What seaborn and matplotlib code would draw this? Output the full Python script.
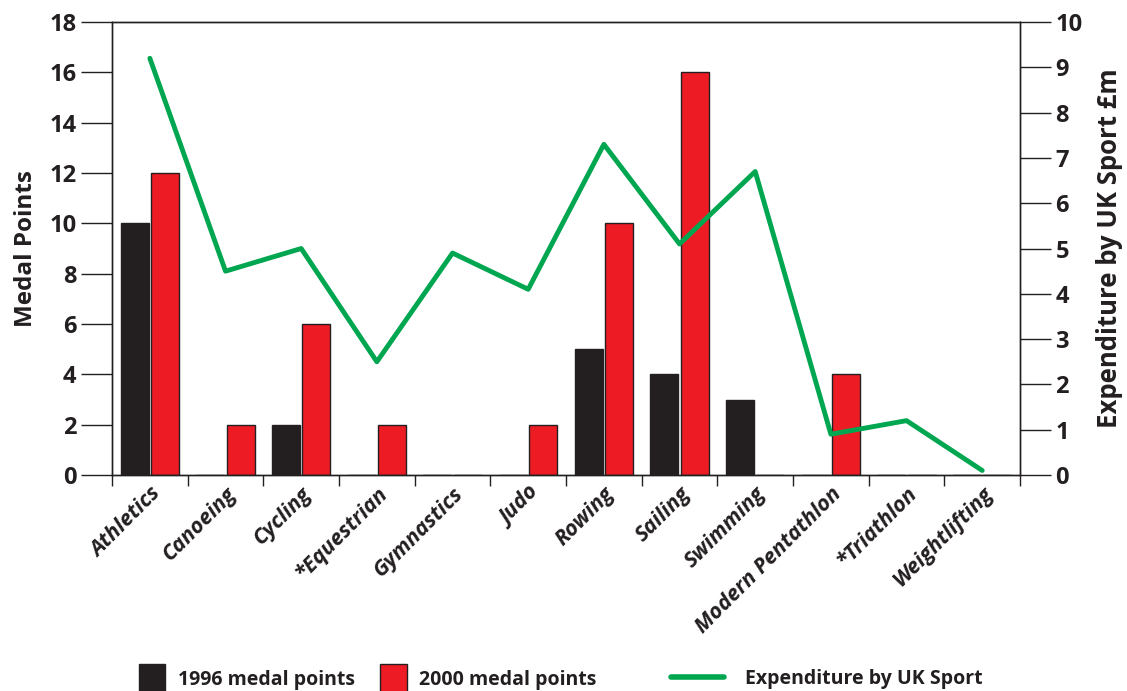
import numpy as np
import pandas as pd
import matplotlib
matplotlib.use('Agg')
import matplotlib.pyplot as plt
import seaborn as sns
from matplotlib.patches import Patch
from matplotlib.lines import Line2D

sports = ['Athletics', 'Canoeing', 'Cycling', '*Equestrian', 'Gymnastics', 'Judo',
          'Rowing', 'Sailing', 'Swimming', 'Modern Pentathlon', '*Triathlon', 'Weightlifting']
medals_1996 = [10, 0, 2, 0, 0, 0, 5, 4, 3, 0, 0, 0]
medals_2000 = [12, 2, 6, 2, 0, 2, 10, 16, 0, 4, 0, 0]
expenditure = [9.2, 4.5, 5.0, 2.5, 4.9, 4.1, 7.3, 5.1, 6.7, 0.9, 1.2, 0.1]

sns.set_style('white')
plt.rcParams['font.family'] = ['Open Sans', 'DejaVu Sans']

df = pd.DataFrame({
    'sport': sports * 2,
    'points': medals_1996 + medals_2000,
    'year': ['1996 medal points'] * len(sports) + ['2000 medal points'] * len(sports),
})

fig = plt.figure(figsize=(11.27, 6.91), dpi=100)
ax = fig.add_axes([0.0994, 0.3126, 0.8057, 0.6555])

sns.barplot(data=df, x='sport', y='points', hue='year', order=sports,
            palette=['#231f20', '#ed1c24'], saturation=1, width=0.8, gap=0.08,
            edgecolor='#231f20', linewidth=1, ax=ax, legend=False)

ax.set_ylim(0, 18)
ax.set_xlim(-0.5, len(sports) - 0.5)
ax.set_yticks(range(0, 19, 2))
ax.set_ylabel('Medal Points', fontsize=17.5, fontweight='bold', color='#231f20', labelpad=8)
ax.set_xlabel('')
ax.tick_params(axis='y', direction='out', length=22, width=1, colors='#231f20',
               labelsize=17, left=True)
for lab in ax.get_yticklabels():
    lab.set_fontweight('bold')

ax.set_xticks(range(len(sports)))
ax.set_xticklabels(sports, rotation=45, ha='right', rotation_mode='anchor',
                   fontsize=15.5, style='italic', fontweight='bold', color='#231f20')
ax.tick_params(axis='x', which='major', length=0, pad=6)
ax.set_xticks(np.arange(-0.5, len(sports)), minor=True)
ax.tick_params(axis='x', which='minor', direction='out', length=8, width=1, color='#231f20', bottom=True)

for s in ax.spines.values():
    s.set_color('#231f20')
    s.set_linewidth(1)

ax2 = ax.twinx()
sns.lineplot(x=np.arange(len(sports)), y=expenditure, color='#00a650', linewidth=3.5, ax=ax2)
ax2.set_ylim(0, 10)
ax2.set_yticks(range(0, 11))
ax2.tick_params(axis='y', direction='out', length=22, width=1, colors='#231f20',
                labelsize=17, right=True)
for lab in ax2.get_yticklabels():
    lab.set_fontweight('bold')
ax2.set_ylabel('Expenditure by UK Sport £m', fontsize=18.5, fontweight='bold',
               color='#231f20', labelpad=10)
for s in ax2.spines.values():
    s.set_color('#231f20')
    s.set_linewidth(1)

bar_handles = [Patch(facecolor='#231f20', edgecolor='#231f20'),
               Patch(facecolor='#ed1c24', edgecolor='#231f20')]
leg1 = fig.legend(bar_handles, ['1996 medal points', '2000 medal points'],
                  loc='center left', bbox_to_anchor=(0.108, 0.018), ncol=2,
                  frameon=False, fontsize=14, handlelength=1.35, handleheight=1.9,
                  columnspacing=1.3, handletextpad=0.65)
leg2 = fig.legend([Line2D([0], [0], color='#00a650', linewidth=4)], ['Expenditure by UK Sport'],
                  loc='center left', bbox_to_anchor=(0.58, 0.018),
                  frameon=False, fontsize=14, handlelength=2.7, handletextpad=1.1)
for leg in (leg1, leg2):
    for t in leg.get_texts():
        t.set_fontweight('bold')
        t.set_color('#231f20')

fig.savefig('out.png', dpi=100)
